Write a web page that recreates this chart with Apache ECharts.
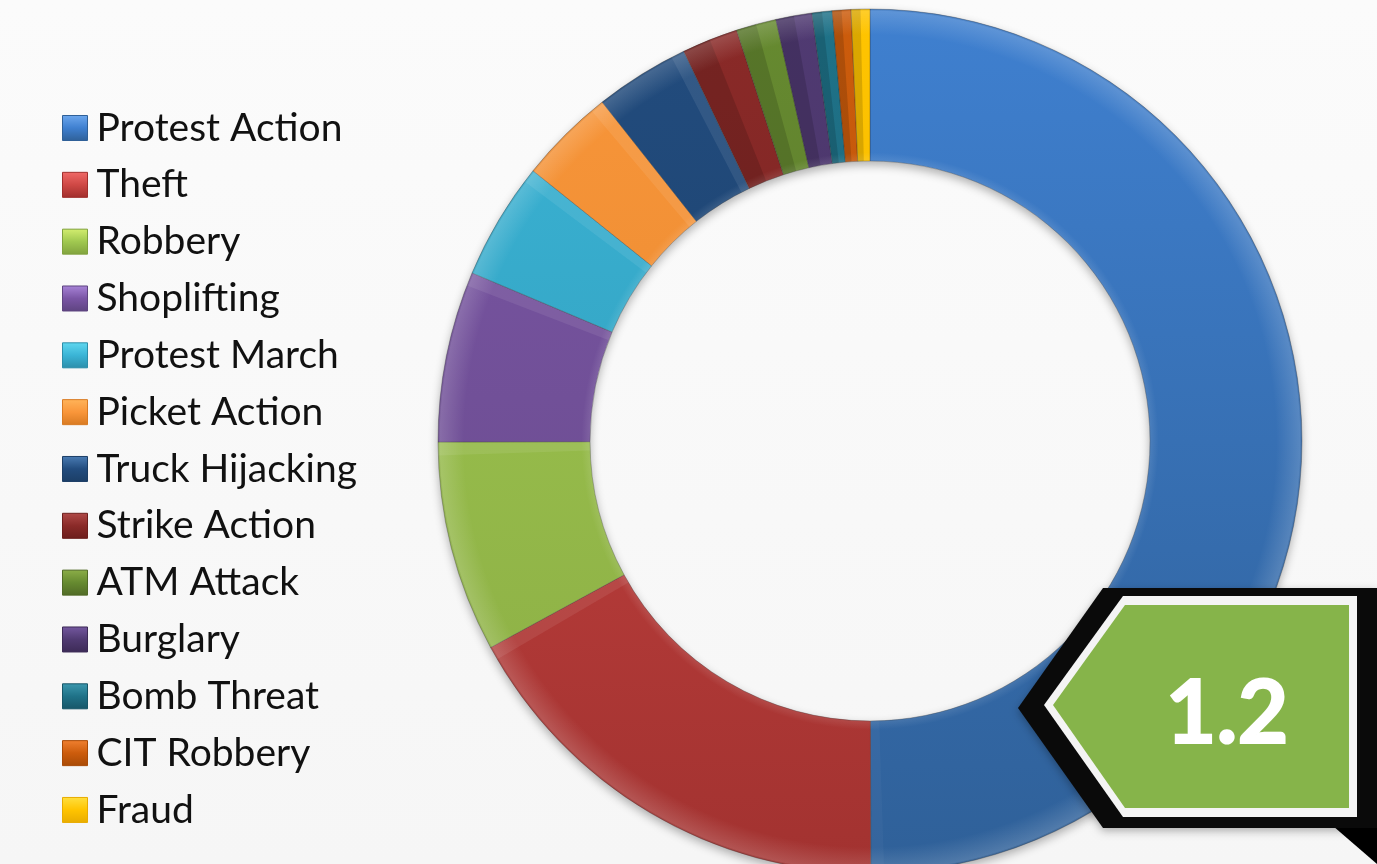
<!DOCTYPE html>
<html><head><meta charset="utf-8">
<style>html,body{margin:0;padding:0;background:#f7f7f7}#c{width:1377px;height:864px}</style>
<script src="https://cdn.jsdelivr.net/npm/echarts@6/dist/echarts.min.js"></script>
</head><body><div id="c"></div>
<script>
const categories=['Protest Action','Theft','Robbery','Shoplifting','Protest March','Picket Action','Truck Hijacking','Strike Action','ATM Attack','Burglary','Bomb Threat','CIT Robbery','Fraud'];
const shares=[50,17.1,7.9,6.4,4.4,3.6,3.55,2.1,1.5,1.35,0.75,0.7,0.7];
const topColors=['#3f80d0','#cf4845','#a0c850','#7a55a5','#3ab4d6','#f9963a','#224c7e','#8a2a28','#668a30','#503a72','#1f7288','#cc5c0c','#ffc400'];
const bottomColors=['#2f6098','#a23230','#8aac44','#664a88','#3096b2','#e0842c','#1a3c64','#701f1e','#56702a','#42305e','#1a5e72','#b04e08','#eab000'];
const swatchLight=['#6ea8ee','#f06a68','#d4ee70','#a884d8','#60d8f0','#ffb45a','#4a7cb4','#b04a48','#8cae48','#7458a0','#3c98ae','#f08030','#ffe040'];
const swatchDark=['#2f6098','#a02e2c','#80a23e','#5e4480','#2c8eaa','#d87a22','#1c3e66','#6c1e1c','#506a26','#3c2a56','#175668','#a84a06','#e8ac00'];
const calloutValue='1.2';

const grad=(a,b)=>new echarts.graphic.LinearGradient(0,9,0,873,[{offset:0,color:a},{offset:1,color:b}],true);
const rim=new echarts.graphic.RadialGradient(870,441,432,[
 {offset:0.648,color:'rgba(255,255,255,0.10)'},{offset:0.668,color:'rgba(255,255,255,0)'},
 {offset:0.94,color:'rgba(255,255,255,0)'},{offset:0.995,color:'rgba(255,255,255,0.16)'},{offset:1,color:'rgba(90,90,90,0.15)'}],true);
const bevelData=[];
shares.forEach((v,i)=>{
  const small=v<=2.5;
  const w=small?v/2:0.5;
  const lightEnd=!small&&i>0;
  bevelData.push({value:w,itemStyle:{color:small?'rgba(0,0,0,0.14)':'rgba(0,0,0,0)'}});
  bevelData.push({value:v-(small?1:2)*w,itemStyle:{color:'rgba(0,0,0,0)'}});
  if(!small) bevelData.push({value:w,itemStyle:{color:lightEnd?'rgba(255,255,255,0.08)':'rgba(255,255,255,0.03)'}});
});
const common={type:'pie',center:[870,441],radius:[280,432],startAngle:90,clockwise:true,silent:true,animation:false,
  label:{show:false},labelLine:{show:false},emphasis:{disabled:true}};

const chart=echarts.init(document.getElementById('c'),null,{renderer:'canvas'});
chart.setOption({
  animation:false,
  backgroundColor:new echarts.graphic.LinearGradient(0,0,0,1,[{offset:0,color:'#fbfbfb'},{offset:1,color:'#f6f6f6'}]),
  legend:{orient:'vertical',left:62,top:108.5,padding:0,itemWidth:25,itemHeight:25,itemGap:17.83,icon:'rect',selectedMode:false,
    textStyle:{fontFamily:'Lato',fontSize:39,lineHeight:39,color:'#111',padding:[0,0,0,4]},
    data:categories.map((name,i)=>({name,icon:'rect',itemStyle:{
      color:new echarts.graphic.LinearGradient(0,0,0,1,[{offset:0,color:swatchLight[i]},{offset:0.5,color:topColors[i]},{offset:1,color:swatchDark[i]}]),
      borderColor:swatchDark[i],borderWidth:1}}))},
  series:[
    Object.assign({},common,{name:'shadow',z:1,data:[{value:1,itemStyle:{color:'#ddd',shadowBlur:10,shadowColor:'rgba(0,0,0,0.3)',shadowOffsetY:4}}]}),
    Object.assign({},common,{name:'shares',z:2,
      data:categories.map((name,i)=>({name,value:shares[i],itemStyle:{color:grad(topColors[i],bottomColors[i]),borderColor:'rgba(40,40,40,0.3)',borderWidth:1}}))}),
    Object.assign({},common,{name:'bevel',z:3,data:bevelData,itemStyle:{borderWidth:0}}),
    Object.assign({},common,{name:'rim',z:4,data:[{value:1,itemStyle:{color:rim}}]})
  ],
  graphic:[
    {type:'polygon',z:100,shape:{points:[[1333,826],[1377,826],[1377,864]]},style:{fill:'#000'}},
    {type:'polygon',z:101,shape:{points:[[1018,708],[1103,588],[1377,588],[1377,828],[1103,828]]},style:{fill:'#0a0a0a',shadowBlur:8,shadowColor:'rgba(0,0,0,0.3)',shadowOffsetY:3}},
    {type:'polygon',z:102,shape:{points:[[1044,705],[1123,596],[1357,596],[1357,817],[1123,817]]},style:{fill:'#f4f4f4'}},
    {type:'polygon',z:103,shape:{points:[[1053,705],[1125,605],[1349,605],[1349,808],[1125,808]]},style:{fill:'#86b44a'}},
    {type:'text',z:104,style:{text:calloutValue,x:1227,y:715,align:'center',verticalAlign:'middle',fontFamily:'Lato',fontWeight:'bold',fontSize:88,fill:'#fff',stroke:'#fff',lineWidth:2}}
  ]
});
</script></body></html>
